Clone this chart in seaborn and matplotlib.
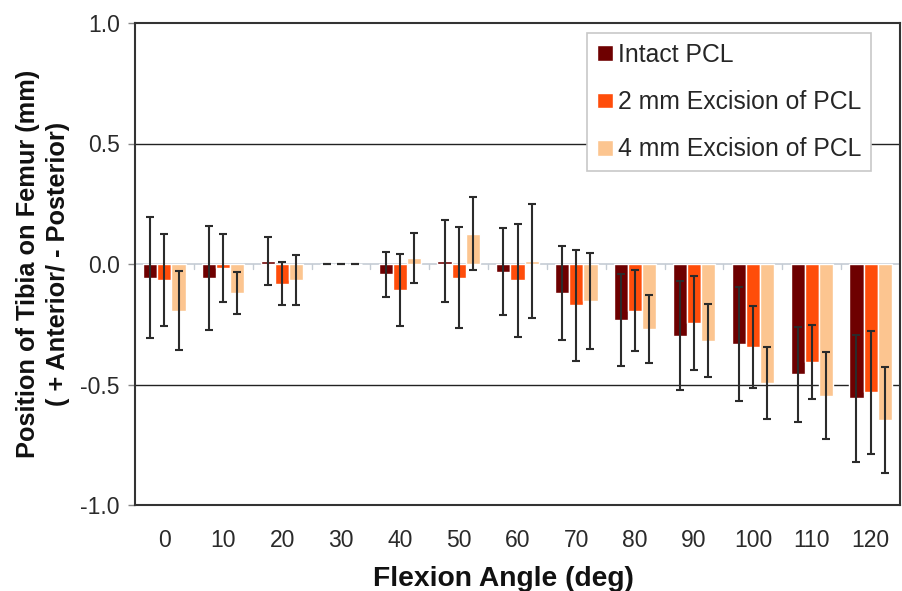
import matplotlib
matplotlib.use("Agg")
import matplotlib.pyplot as plt
import seaborn as sns
import pandas as pd
import numpy as np

# ---- data ----
angles = ["0", "10", "20", "30", "40", "50", "60", "70", "80", "90", "100", "110", "120"]
series_names = ["Intact PCL", "2 mm Excision of PCL", "4 mm Excision of PCL"]
intact = [-0.057, -0.057, 0.011, 0.0, -0.043, 0.011, -0.032, -0.121, -0.232, -0.297, -0.332, -0.457, -0.558]
intact_sd = [0.25, 0.215, 0.10, 0.0, 0.092, 0.17, 0.18, 0.195, 0.19, 0.227, 0.235, 0.197, 0.265]
exc2 = [-0.067, -0.017, -0.082, 0.0, -0.107, -0.057, -0.068, -0.171, -0.193, -0.246, -0.346, -0.407, -0.533]
exc2_sd = [0.19, 0.142, 0.09, 0.0, 0.15, 0.21, 0.235, 0.23, 0.17, 0.195, 0.17, 0.153, 0.255]
exc4 = [-0.193, -0.12, -0.067, 0.0, 0.024, 0.126, 0.0125, -0.154, -0.27, -0.318, -0.494, -0.546, -0.649]
exc4_sd = [0.163, 0.088, 0.105, 0.0, 0.103, 0.15, 0.235, 0.2, 0.14, 0.15, 0.15, 0.182, 0.22]
yticks = [-1.0, -0.5, 0.0, 0.5, 1.0]
ytick_labels = ["-1.0", "-0.5", "0.0", "0.5", "1.0"]
colors = ["#6e0000", "#ff4d0a", "#fcc590"]

means = [intact, exc2, exc4]
sds = [intact_sd, exc2_sd, exc4_sd]

df = pd.DataFrame({
    "angle": angles * 3,
    "series": sum([[n] * len(angles) for n in series_names], []),
    "value": intact + exc2 + exc4,
})

sns.set_theme(style="white")
plt.rcParams["font.family"] = ["Liberation Sans", "DejaVu Sans"]
plt.rcParams["axes.unicode_minus"] = False

fig = plt.figure(figsize=(9.02, 5.91), dpi=100)
ax = fig.add_axes([135 / 902, (591 - 505) / 591, (900 - 135) / 902, (505 - 23) / 591])

# zero line (category axis) behind bars
ax.axhline(0, color="#c5ccd4", lw=1.2, zorder=0.5)
for b in np.arange(len(angles) - 1) + 0.5:
    ax.plot([b, b], [0, -0.02], color="#c5ccd4", lw=1.0, zorder=0.5)
for g in [0.5, -0.5]:
    ax.axhline(g, color="#222222", lw=1.0, zorder=0.6)

sns.barplot(data=df, x="angle", y="value", hue="series", order=angles,
            hue_order=series_names, palette=colors, saturation=1,
            width=0.72, errorbar=None, ax=ax, zorder=2, legend=True)

for cont, m, s in zip(ax.containers, means, sds):
    xs = [p.get_x() + p.get_width() / 2 for p in cont.patches]
    ax.errorbar(xs, m, yerr=s, fmt="none", ecolor="#2b2b2b", elinewidth=1.5,
                capsize=3, capthick=1.5, zorder=3)

ax.set_xlim(-0.5, len(angles) - 0.5)
ax.set_ylim(-1.0, 1.0)
ax.set_yticks(yticks)
ax.set_yticklabels(ytick_labels)
ax.tick_params(axis="y", which="both", left=True, length=5, width=1, color="#888888",
               labelsize=16.5, labelcolor="#2a2a2a", pad=6)
ax.tick_params(axis="x", bottom=False, labelsize=16.5, labelcolor="#2a2a2a", pad=11)

for sp in ax.spines.values():
    sp.set_visible(True)
    sp.set_color("#333333")
    sp.set_linewidth(1.5)

ax.set_xlabel("Flexion Angle (deg)", fontsize=20.3, fontweight="bold", color="#111111")
ax.xaxis.set_label_coords((503.5 - 135) / 765, (505 - 566) / 482)
ax.set_ylabel("Position of Tibia on Femur (mm)\n( + Anterior/ - Posterior)", fontsize=18.3,
              fontweight="bold", color="#111111", labelpad=7, linespacing=1.33)

leg = ax.legend(loc="upper left", bbox_to_anchor=(0.591, 0.979), borderaxespad=0,
                fontsize=17.8, frameon=True, fancybox=False, edgecolor="#c8c8c8",
                framealpha=1, handlelength=0.65, handleheight=0.6, handletextpad=0.2,
                labelspacing=0.94, borderpad=0.4)
leg.get_frame().set_linewidth(1.2)
leg.set_zorder(10)

fig.savefig("out.png", dpi=100)
